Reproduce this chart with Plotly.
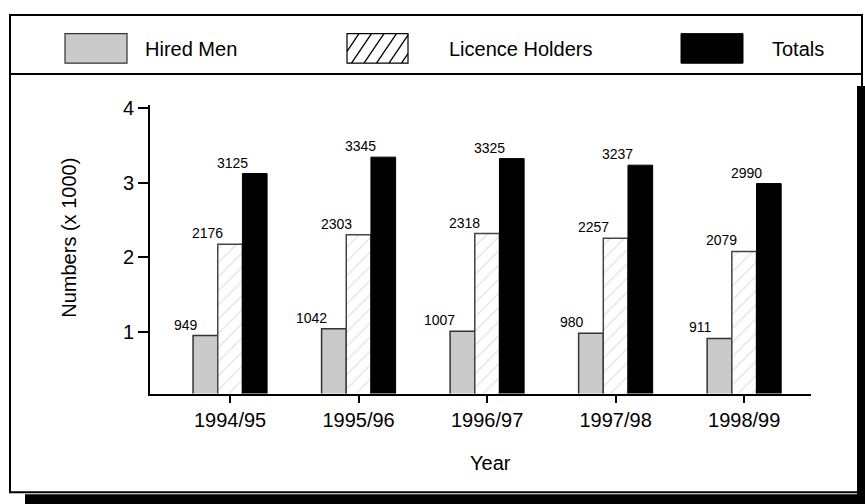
import numpy as np
import plotly.graph_objects as go

# Survey data, thousands of people per season
years = ["1994/95", "1995/96", "1996/97", "1997/98", "1998/99"]
hired_men = [949, 1042, 1007, 980, 911]
licence_holders = [2176, 2303, 2318, 2257, 2079]
totals = [3125, 3345, 3325, 3237, 2990]
y_ticks = [1, 2, 3, 4]

W, H = 865, 504
FONT = "Liberation Sans, Arial, Helvetica, sans-serif"


def px(x):
    return x / W


def py(y):
    return 1 - y / H


x = np.arange(len(years))
bar_w = 0.192  # width of one bar in category units
offsets = [-bar_w, 0.0, bar_w]

series = [
    ("Hired Men", hired_men, dict(color="#cacaca", line=dict(color="#333333", width=1.5))),
    ("Licence Holders", licence_holders,
     dict(color="white", line=dict(color="#444444", width=1.5),
          pattern=dict(shape="/", fgcolor="#c4c4c4", bgcolor="white", size=10, solidity=0.12))),
    ("Totals", totals, dict(color="black", line=dict(color="black", width=1))),
]

fig = go.Figure()
for name, vals, marker in series:
    fig.add_trace(go.Bar(x=x, y=[v / 1000 for v in vals], name=name, marker=marker,
                         showlegend=False, hoverinfo="skip"))

# value labels sit above-left of each bar
annotations = []
for (name, vals, _), off in zip(series, offsets):
    for i, v in enumerate(vals):
        annotations.append(dict(x=i + off, y=v / 1000, xref="x", yref="y", text=str(v),
                                showarrow=False, xanchor="right", yanchor="bottom",
                                xshift=-5, yshift=1,
                                font=dict(family=FONT, size=14, color="black")))

# axis titles
annotations.append(dict(x=px(490), y=py(462), xref="paper", yref="paper", text="Year",
                        showarrow=False, xanchor="center", yanchor="middle",
                        font=dict(family=FONT, size=20, color="black")))
annotations.append(dict(x=px(69), y=py(234), xref="paper", yref="paper", text="Numbers (x 1000)",
                        showarrow=False, xanchor="center", yanchor="middle", textangle=-90,
                        font=dict(family=FONT, size=20, color="black")))

# legend texts
for label, lx in [("Hired Men", 143), ("Licence Holders", 447), ("Totals", 770)]:
    annotations.append(dict(x=px(lx), y=py(43), xref="paper", yref="paper", text=label,
                            showarrow=False, xanchor="left", yanchor="middle",
                            font=dict(family=FONT, size=20, color="black")))

shapes = []


def rect(x0, y0, x1, y1, **kw):
    shapes.append(dict(type="rect", xref="paper", yref="paper",
                       x0=px(x0), x1=px(x1), y0=py(y1), y1=py(y0), **kw))


# drop shadow and frame
rect(25, 494, 866, 505, fillcolor="black", line=dict(width=0))
rect(857, 80, 866, 505, fillcolor="black", line=dict(width=0))
rect(10, 8, 862, 492, fillcolor="rgba(0,0,0,0)", line=dict(color="black", width=2))
shapes.append(dict(type="line", xref="paper", yref="paper", x0=px(10), x1=px(862),
                   y0=py(68), y1=py(68), line=dict(color="black", width=2)))

# legend swatches
rect(65, 27, 127, 57, fillcolor="#cacaca", line=dict(color="#333333", width=1.2))
rect(681, 27, 743, 57, fillcolor="black", line=dict(color="black", width=1))

hx0, hy0, hx1, hy1 = 347, 27, 408, 57
rect(hx0, hy0, hx1, hy1, fillcolor="white", line=dict(color="black", width=1.2))
# diagonal hatch lines clipped to the swatch
run = 20.0  # horizontal run of one stroke across the swatch height
path = []
for start in np.arange(hx0 - run + 12, hx1, 12.5):
    xa, ya = start, hy1
    xb, yb = start + run, hy0
    # clip against left/right edges
    if xa < hx0:
        t = (hx0 - xa) / run
        xa, ya = hx0, hy1 - t * (hy1 - hy0)
    if xb > hx1:
        t = (xb - hx1) / run
        xb, yb = hx1, hy0 + t * (hy1 - hy0)
    if xb <= xa:
        continue
    path.append(f"M{px(xa)},{py(ya)} L{px(xb)},{py(yb)}")
shapes.append(dict(type="path", xref="paper", yref="paper", path=" ".join(path),
                   line=dict(color="black", width=1.3)))

fig.update_layout(
    width=W, height=H, autosize=False,
    margin=dict(l=0, r=0, t=0, b=0),
    paper_bgcolor="white", plot_bgcolor="rgba(0,0,0,0)",
    barmode="group", bargap=1 - 3 * bar_w, bargroupgap=0,
    font=dict(family=FONT, color="black"),
    annotations=annotations, shapes=shapes,
    xaxis=dict(domain=[px(150), px(811)], range=[-0.623, 4.52],
               tickmode="array", tickvals=list(x), ticktext=years,
               ticks="outside", ticklen=7, tickwidth=2, tickcolor="black",
               showline=True, linewidth=2, linecolor="black",
               showgrid=False, zeroline=False,
               tickfont=dict(family=FONT, size=20, color="black")),
    yaxis=dict(domain=[py(392), py(99)], range=[0.17, 4.05],
               tickmode="array", tickvals=y_ticks, ticktext=[str(t) for t in y_ticks],
               ticks="outside", ticklen=10, tickwidth=2, tickcolor="black",
               showline=True, linewidth=2, linecolor="black",
               showgrid=False, zeroline=False,
               tickfont=dict(family=FONT, size=20, color="black")),
)

fig.write_html("out.html")
